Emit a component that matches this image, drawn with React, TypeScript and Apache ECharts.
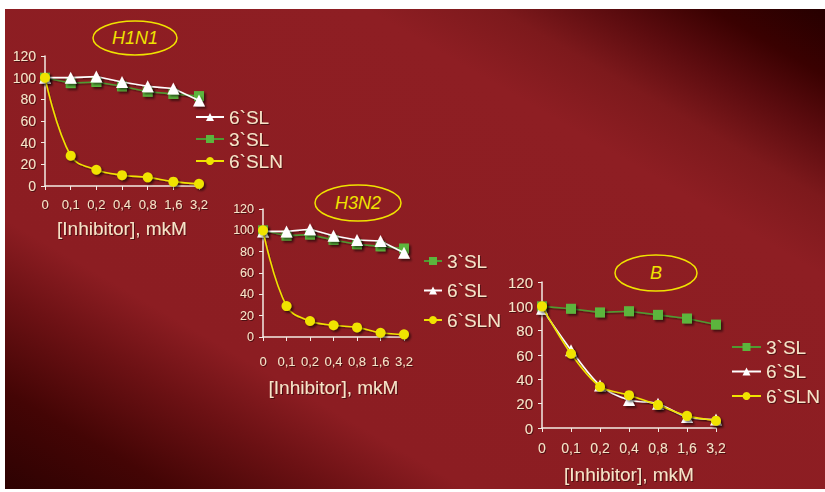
import React, { useEffect, useRef } from "react";
import * as echarts from "echarts";

const categories = ["0", "0,1", "0,2", "0,4", "0,8", "1,6", "3,2"];
const yTicks = [0, 20, 40, 60, 80, 100, 120];

const h1n1_6SL = [100, 100, 101, 96, 92, 90, 79];
const h1n1_3SL = [100, 95, 96, 92, 87, 85, 83];
const h1n1_6SLN = [100, 28, 15, 10, 8, 4, 2];

const h3n2_3SL = [100, 95, 96, 91, 87, 85, 83];
const h3n2_6SL = [99, 99, 101, 95, 91, 90, 79];
const h3n2_6SLN = [100, 29, 15, 11, 9, 4, 2.5];

const b_3SL = [100, 98, 95, 96, 93, 90, 85];
const b_6SL = [98, 64, 35, 23, 20, 9, 7];
const b_6SLN = [100, 61, 34, 27, 19, 10, 6];

const titles = ["H1N1", "H3N2", "B"];
const axisTitle = "[Inhibitor], mkM";
const legend1 = ["6`SL", "3`SL", "6`SLN"];
const legend23 = ["3`SL", "6`SL", "6`SLN"];

const FONT = "'Liberation Sans', Arial, sans-serif";
const CREAM = "#f6e4c8";
const AXIS = "#f3ebe4";
const GREEN_LINE = "#4f9a31";
const GREEN_MARK = "#5cb53d";
const YELLOW = "#f0e300";
const WHITE = "#ffffff";

const markShadow = {
  shadowColor: "rgba(0,0,0,0.55)",
  shadowBlur: 2,
  shadowOffsetX: 2,
  shadowOffsetY: 2,
};
const lineShadow = {
  shadowColor: "rgba(0,0,0,0.35)",
  shadowBlur: 1,
  shadowOffsetX: 1,
  shadowOffsetY: 1.5,
};
const textShadow = {
  textShadowColor: "rgba(0,0,0,0.45)",
  textShadowBlur: 1,
  textShadowOffsetX: 1,
  textShadowOffsetY: 1,
};

function mkSeries(kind: "6SL" | "3SL" | "6SLN", data: number[], idx: number, smooth: number | boolean) {
  const common = {
    type: "line",
    xAxisIndex: idx,
    yAxisIndex: idx,
    data,
    smooth,
  };
  if (kind === "3SL") {
    return {
      ...common,
      name: "3`SL",
      z: 2,
      symbol: "rect",
      symbolSize: 10,
      lineStyle: { color: GREEN_LINE, width: 1.6, ...lineShadow },
      itemStyle: { color: GREEN_MARK, ...markShadow },
    };
  }
  if (kind === "6SL") {
    return {
      ...common,
      name: "6`SL",
      z: 3,
      symbol: "triangle",
      symbolSize: 12,
      lineStyle: { color: WHITE, width: 1.6, ...lineShadow },
      itemStyle: { color: WHITE, ...markShadow },
    };
  }
  return {
    ...common,
    name: "6`SLN",
    z: 4,
    symbol: "circle",
    symbolSize: 10,
    lineStyle: { color: YELLOW, width: 1.6, ...lineShadow },
    itemStyle: { color: YELLOW, ...markShadow },
  };
}

const grids = [
  { left: 45, top: 56, width: 154, height: 130, ySize: 14, xSize: 13, xMargin: 12, nameGap: 33 },
  { left: 263, top: 209, width: 141, height: 128, ySize: 12.5, xSize: 13, xMargin: 18, nameGap: 41 },
  { left: 542, top: 282, width: 174, height: 146, ySize: 15, xSize: 14, xMargin: 13, nameGap: 37 },
];

export default function App() {
  const ref = useRef<HTMLDivElement>(null);
  useEffect(() => {
    if (!ref.current) return;
    const chart = echarts.init(ref.current, undefined, { renderer: "svg" });

    const xAxis = grids.map((g, i) => ({
      type: "category",
      gridIndex: i,
      data: categories,
      boundaryGap: false,
      axisLine: { lineStyle: { color: AXIS, width: 1.5 } },
      axisTick: { show: true, length: 4, alignWithLabel: true, lineStyle: { color: AXIS } },
      axisLabel: {
        interval: 0,
        color: CREAM,
        fontSize: g.xSize,
        fontFamily: FONT,
        margin: g.xMargin,
        ...textShadow,
      },
      name: axisTitle,
      nameLocation: "middle",
      nameGap: g.nameGap,
      nameTextStyle: { color: CREAM, fontSize: 19, fontFamily: FONT, ...textShadow },
      splitLine: { show: false },
    }));

    const yAxis = grids.map((g, i) => ({
      type: "value",
      gridIndex: i,
      min: yTicks[0],
      max: yTicks[yTicks.length - 1],
      interval: 20,
      axisLine: { show: true, lineStyle: { color: AXIS, width: 1.5 } },
      axisTick: { show: true, length: 4, lineStyle: { color: AXIS } },
      axisLabel: {
        color: CREAM,
        fontSize: g.ySize,
        fontFamily: FONT,
        margin: 9,
        ...textShadow,
      },
      splitLine: { show: false },
    }));

    const series = [
      mkSeries("3SL", h1n1_3SL, 0, false),
      mkSeries("6SL", h1n1_6SL, 0, false),
      mkSeries("6SLN", h1n1_6SLN, 0, 0.4),
      mkSeries("3SL", h3n2_3SL, 1, false),
      mkSeries("6SL", h3n2_6SL, 1, false),
      mkSeries("6SLN", h3n2_6SLN, 1, 0.4),
      mkSeries("3SL", b_3SL, 2, false),
      mkSeries("6SL", b_6SL, 2, 0.3),
      mkSeries("6SLN", b_6SLN, 2, 0.3),
    ];

    const legendBase = {
      orient: "vertical",
      padding: 0,
      itemHeight: 10,
      selectedMode: false,
      textStyle: { color: CREAM, fontSize: 19, fontFamily: FONT, lineHeight: 20, ...textShadow },
    };
    const legend = [
      { ...legendBase, data: legend1, left: 195, top: 107, itemWidth: 28, itemGap: 2 },
      { ...legendBase, data: legend23, left: 423, top: 251, itemWidth: 18, itemGap: 9.5 },
      { ...legendBase, data: legend23, left: 731, top: 337, itemWidth: 29, itemGap: 4.5 },
    ];

    const titleBoxes = [
      { cx: 135, cy: 38, rx: 42, ry: 17 },
      { cx: 358, cy: 203, rx: 43, ry: 18 },
      { cx: 656, cy: 273, rx: 41, ry: 18 },
    ];

    const graphic: any[] = [
      {
        type: "rect",
        z: -10,
        silent: true,
        shape: { x: 5, y: 9, width: 820, height: 480 },
        style: {
          fill: new echarts.graphic.LinearGradient(
            623, -109, 207, 605,
            [
              { offset: 0, color: "#260000" },
              { offset: 0.07, color: "#3a0101" },
              { offset: 0.13, color: "#5a0b0e" },
              { offset: 0.2, color: "#7d191c" },
              { offset: 0.28, color: "#8e1e23" },
              { offset: 0.72, color: "#8c1d22" },
              { offset: 0.8, color: "#6c1114" },
              { offset: 0.9, color: "#440505" },
              { offset: 1, color: "#2e0202" },
            ],
            true
          ),
        },
      },
    ];
    titleBoxes.forEach((b, i) => {
      graphic.push({
        type: "ellipse",
        z: 100,
        silent: true,
        shape: b,
        style: { fill: "none", stroke: YELLOW, lineWidth: 1.5 },
      });
      graphic.push({
        type: "text",
        z: 101,
        silent: true,
        x: b.cx,
        y: b.cy,
        style: {
          text: titles[i],
          fill: YELLOW,
          font: `italic 18px ${FONT}`,
          align: "center",
          verticalAlign: "middle",
        },
      });
    });

    chart.setOption({
      animation: false,
      backgroundColor: "#ffffff",
      grid: grids.map((g) => ({ left: g.left, top: g.top, width: g.width, height: g.height, containLabel: false })),
      xAxis,
      yAxis,
      legend,
      series,
      graphic,
    });
    return () => chart.dispose();
  }, []);
  return <div ref={ref} style={{ position: "absolute", left: 0, top: 0, width: 825, height: 492 }} />;
}
